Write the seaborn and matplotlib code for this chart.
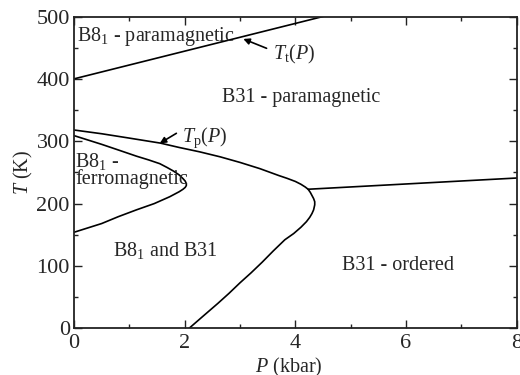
import matplotlib
matplotlib.use("Agg")
import matplotlib.pyplot as plt
from matplotlib.ticker import MultipleLocator
import pandas as pd
import seaborn as sns

# Phase boundaries of the P-T diagram (P in kbar, T in K)
# Outer boundary: T_p(P) from P=0, around the nose, down to T=0
outer_P = [0.0, 0.5, 1.0, 1.56, 1.9, 2.27, 2.64, 3.0, 3.36, 3.7, 3.85, 4.0, 4.1,
           4.18, 4.23, 4.27, 4.30, 4.33, 4.35, 4.35, 4.33, 4.30, 4.26, 4.20, 4.1,
           3.97, 3.81, 3.6, 3.4, 3.2, 3.0, 2.8, 2.6, 2.3, 2.08]
outer_T = [318, 312, 305, 297, 290, 283, 275, 266, 256, 245, 240.5, 235.5, 231,
           226.5, 223, 218, 213, 208, 203, 198, 190, 184, 178, 171, 162,
           152, 142, 124, 106, 89, 73, 56, 40, 17, 0]

# Inner boundary enclosing the B8_1 ferromagnetic region
inner_P = [0.0, 0.5, 0.8, 1.13, 1.35, 1.55, 1.68, 1.8, 1.9, 1.97, 2.01, 2.03,
           2.03, 2.01, 1.97, 1.9, 1.73, 1.45, 1.13, 0.8, 0.5, 0.0]
inner_T = [309, 295, 286, 276, 270, 264, 258, 252, 246, 240, 236, 232,
           229, 226, 223, 219, 211, 200, 190, 179, 168, 154]

# T_t(P) transition line
tt_P = [0.0, 4.5]
tt_T = [400, 500]

# Boundary of the ordered B31 phase
ord_P = [4.23, 8.0]
ord_T = [223, 241]

x_ticks = [0, 2, 4, 6, 8]
y_ticks = [0, 100, 200, 300, 400, 500]

sns.set_theme(style="ticks")
plt.rcParams["font.family"] = ["Liberation Serif", "DejaVu Serif"]
plt.rcParams["mathtext.fontset"] = "custom"
plt.rcParams["mathtext.rm"] = "Liberation Serif"
plt.rcParams["mathtext.it"] = "Liberation Serif:italic"
plt.rcParams["mathtext.bf"] = "Liberation Serif:bold"

fig = plt.figure(figsize=(5.2, 3.75), dpi=100)
ax = fig.add_axes([0.1423, 0.1245, 0.8514, 0.8315])

curves = [
    ("outer", outer_P, outer_T),
    ("inner", inner_P, inner_T),
    ("tt", tt_P, tt_T),
    ("ordered", ord_P, ord_T),
]
for name, P, T in curves:
    df = pd.DataFrame({"P": P, "T": T})
    sns.lineplot(data=df, x="P", y="T", sort=False, estimator=None,
                 color="black", lw=1.2, ax=ax)

ax.set_xlim(0, 8)
ax.set_ylim(0, 500)
ax.set_xticks(x_ticks)
ax.set_yticks(y_ticks)
ax.xaxis.set_minor_locator(MultipleLocator(1))
ax.yaxis.set_minor_locator(MultipleLocator(50))
ax.tick_params(which="both", direction="in", top=True, right=True,
               width=1.0, color="#222222", labelsize=16)
ax.tick_params(which="major", length=6)
ax.tick_params(which="minor", length=3)
ax.tick_params(axis="y", pad=3)
ax.tick_params(axis="x", pad=4)
for s in ax.spines.values():
    s.set_linewidth(1.3)
    s.set_color("#222222")

ax.set_xlabel(r"$P$ (kbar)", fontsize=14.5)
ax.set_ylabel(r"$T$ (K)", fontsize=14.5)
ax.xaxis.set_label_coords(0.4845, -0.09)
ax.yaxis.set_label_coords(-0.088, 0.5)

fs = 14.5
ax.text(0.05, 460.7, r"B8$_{\rm 1}$ - paramagnetic", fontsize=fs, va="baseline")
ax.text(2.67, 363.4, "B31 - paramagnetic", fontsize=fs, va="baseline")
ax.text(0.02, 259, r"B8$_{\rm 1}$ -", fontsize=fs, va="baseline")
ax.text(0.02, 231, "ferromagnetic", fontsize=fs, va="baseline")
ax.text(0.705, 116, r"B8$_{\rm 1}$ and B31", fontsize=fs, va="baseline")
ax.text(4.85, 93.5, "B31 - ordered", fontsize=fs, va="baseline")

ax.text(3.59, 431, r"$T_{\rm t}(P)$", fontsize=fs, va="baseline")
ax.text(1.95, 298.8, r"$T_{\rm p}(P)$", fontsize=fs, va="baseline")

arrow = dict(arrowstyle="-|>", color="black", lw=1.2, mutation_scale=9,
             shrinkA=0, shrinkB=0)
ax.annotate("", xy=(3.06, 464), xytext=(3.48, 449), arrowprops=arrow)
ax.annotate("", xy=(1.55, 296.7), xytext=(1.85, 312.7), arrowprops=arrow)

fig.savefig("out.png", dpi=100)
